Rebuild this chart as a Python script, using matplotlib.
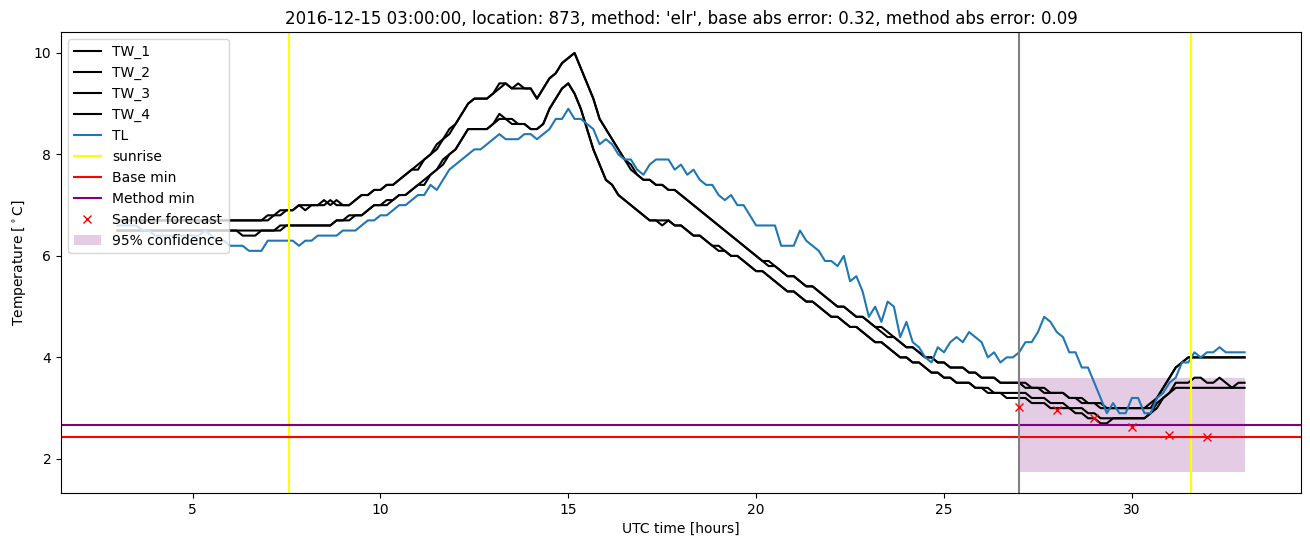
import matplotlib
matplotlib.use("Agg")
import matplotlib.pyplot as plt
import numpy as np

# time axis: 10 minute steps from 03 to 33 UTC hours
hours = np.arange(181) / 6.0 + 3

# one row per hour (six 10-min values), last value at 33h
tw_1 = [
    6.7, 6.7, 6.7, 6.7, 6.7, 6.7,
    6.7, 6.7, 6.7, 6.7, 6.7, 6.7,
    6.7, 6.7, 6.7, 6.7, 6.7, 6.7,
    6.7, 6.7, 6.7, 6.7, 6.7, 6.7,
    6.8, 6.8, 6.9, 6.9, 6.9, 7.0,
    6.9, 7.0, 7.0, 7.1, 7.0, 7.1,
    7.0, 7.0, 7.1, 7.2, 7.2, 7.3,
    7.3, 7.4, 7.4, 7.5, 7.6, 7.7,
    7.8, 7.9, 8.0, 8.1, 8.3, 8.5,
    8.6, 8.8, 9.0, 9.1, 9.1, 9.1,
    9.2, 9.4, 9.4, 9.3, 9.4, 9.3,
    9.3, 9.1, 9.3, 9.5, 9.6, 9.8,
    9.9, 10.0, 9.7, 9.4, 9.1, 8.7,
    8.5, 8.3, 8.1, 7.9, 7.7, 7.6,
    7.5, 7.5, 7.4, 7.4, 7.3, 7.3,
    7.2, 7.1, 7.0, 6.9, 6.8, 6.7,
    6.6, 6.5, 6.4, 6.3, 6.2, 6.1,
    6.0, 5.9, 5.8, 5.8, 5.7, 5.6,
    5.6, 5.5, 5.4, 5.4, 5.3, 5.2,
    5.1, 5.0, 5.0, 4.9, 4.8, 4.8,
    4.7, 4.6, 4.5, 4.4, 4.4, 4.3,
    4.2, 4.2, 4.1, 4.0, 4.0, 3.9,
    3.9, 3.8, 3.8, 3.8, 3.7, 3.7,
    3.6, 3.6, 3.6, 3.5, 3.5, 3.5,
    3.5, 3.5, 3.4, 3.4, 3.4, 3.3,
    3.3, 3.3, 3.2, 3.2, 3.2, 3.1,
    3.1, 3.1, 3.0, 3.0, 3.0, 3.0,
    3.0, 3.0, 3.0, 3.0, 3.2, 3.4,
    3.6, 3.8, 3.9, 4.0, 4.0, 4.0,
    4.0, 4.0, 4.0, 4.0, 4.0, 4.0,
    4.0,
]

tw_2 = [
    6.7, 6.7, 6.7, 6.7, 6.7, 6.7,
    6.7, 6.7, 6.7, 6.7, 6.7, 6.7,
    6.7, 6.7, 6.7, 6.7, 6.7, 6.7,
    6.7, 6.7, 6.7, 6.7, 6.7, 6.7,
    6.7, 6.8, 6.8, 6.9, 6.9, 7.0,
    7.0, 7.0, 7.0, 7.0, 7.1, 7.0,
    7.0, 7.0, 7.1, 7.2, 7.2, 7.3,
    7.3, 7.4, 7.4, 7.5, 7.6, 7.7,
    7.7, 7.9, 8.0, 8.2, 8.3, 8.4,
    8.6, 8.8, 9.0, 9.1, 9.1, 9.1,
    9.2, 9.3, 9.4, 9.3, 9.3, 9.3,
    9.3, 9.1, 9.3, 9.5, 9.6, 9.8,
    9.9, 10.0, 9.7, 9.4, 9.1, 8.7,
    8.5, 8.3, 8.1, 7.9, 7.8, 7.6,
    7.5, 7.5, 7.4, 7.4, 7.3, 7.3,
    7.2, 7.1, 7.0, 6.9, 6.8, 6.7,
    6.6, 6.5, 6.4, 6.3, 6.2, 6.1,
    6.0, 5.9, 5.9, 5.8, 5.7, 5.6,
    5.6, 5.5, 5.4, 5.4, 5.3, 5.2,
    5.1, 5.0, 5.0, 4.9, 4.8, 4.8,
    4.7, 4.6, 4.6, 4.5, 4.4, 4.3,
    4.2, 4.2, 4.1, 4.0, 4.0, 3.9,
    3.9, 3.8, 3.8, 3.8, 3.7, 3.7,
    3.6, 3.6, 3.6, 3.5, 3.5, 3.5,
    3.5, 3.4, 3.4, 3.4, 3.3, 3.3,
    3.3, 3.3, 3.2, 3.2, 3.1, 3.1,
    3.1, 3.0, 3.0, 3.0, 3.0, 3.0,
    3.0, 3.0, 3.0, 3.1, 3.2, 3.4,
    3.6, 3.8, 3.9, 4.0, 4.0, 4.0,
    4.0, 4.0, 4.0, 4.0, 4.0, 4.0,
    4.0,
]

tw_3 = [
    6.5, 6.5, 6.5, 6.5, 6.5, 6.5,
    6.5, 6.5, 6.5, 6.5, 6.5, 6.5,
    6.5, 6.5, 6.5, 6.5, 6.5, 6.5,
    6.5, 6.5, 6.5, 6.5, 6.5, 6.5,
    6.5, 6.5, 6.6, 6.6, 6.6, 6.6,
    6.6, 6.6, 6.6, 6.6, 6.6, 6.7,
    6.7, 6.7, 6.8, 6.8, 6.9, 7.0,
    7.0, 7.1, 7.1, 7.2, 7.2, 7.3,
    7.4, 7.5, 7.6, 7.7, 7.9, 8.0,
    8.1, 8.3, 8.5, 8.5, 8.5, 8.5,
    8.6, 8.8, 8.7, 8.7, 8.6, 8.6,
    8.5, 8.5, 8.6, 8.9, 9.1, 9.3,
    9.4, 9.2, 8.9, 8.5, 8.1, 7.8,
    7.5, 7.4, 7.2, 7.1, 7.0, 6.9,
    6.8, 6.7, 6.7, 6.7, 6.7, 6.6,
    6.6, 6.5, 6.4, 6.4, 6.3, 6.2,
    6.2, 6.1, 6.0, 6.0, 5.9, 5.8,
    5.7, 5.7, 5.6, 5.5, 5.4, 5.3,
    5.3, 5.2, 5.1, 5.1, 5.0, 4.9,
    4.8, 4.8, 4.7, 4.6, 4.6, 4.5,
    4.4, 4.3, 4.3, 4.2, 4.1, 4.0,
    4.0, 3.9, 3.9, 3.8, 3.7, 3.7,
    3.6, 3.6, 3.5, 3.5, 3.5, 3.4,
    3.4, 3.4, 3.3, 3.3, 3.3, 3.3,
    3.3, 3.3, 3.2, 3.2, 3.2, 3.1,
    3.1, 3.1, 3.0, 3.0, 3.0, 2.9,
    2.9, 2.8, 2.8, 2.8, 2.8, 2.8,
    2.8, 2.8, 2.8, 2.9, 3.1, 3.2,
    3.3, 3.5, 3.5, 3.5, 3.6, 3.6,
    3.5, 3.5, 3.6, 3.5, 3.4, 3.5,
    3.5,
]

tw_4 = [
    6.5, 6.5, 6.5, 6.5, 6.5, 6.5,
    6.5, 6.5, 6.5, 6.5, 6.5, 6.5,
    6.5, 6.5, 6.5, 6.5, 6.5, 6.5,
    6.5, 6.5, 6.4, 6.4, 6.4, 6.5,
    6.5, 6.5, 6.5, 6.6, 6.6, 6.6,
    6.6, 6.6, 6.6, 6.6, 6.6, 6.7,
    6.7, 6.8, 6.8, 6.8, 6.9, 7.0,
    7.0, 7.0, 7.1, 7.2, 7.2, 7.3,
    7.4, 7.4, 7.6, 7.7, 7.8, 8.0,
    8.1, 8.3, 8.5, 8.5, 8.5, 8.5,
    8.6, 8.7, 8.7, 8.6, 8.6, 8.6,
    8.5, 8.5, 8.6, 8.9, 9.1, 9.3,
    9.4, 9.2, 8.9, 8.5, 8.1, 7.8,
    7.5, 7.4, 7.2, 7.1, 7.0, 6.9,
    6.8, 6.7, 6.7, 6.6, 6.7, 6.6,
    6.6, 6.5, 6.4, 6.4, 6.3, 6.2,
    6.1, 6.1, 6.0, 6.0, 5.9, 5.8,
    5.7, 5.7, 5.6, 5.5, 5.4, 5.3,
    5.3, 5.2, 5.1, 5.1, 5.0, 4.9,
    4.8, 4.8, 4.7, 4.6, 4.6, 4.5,
    4.4, 4.3, 4.3, 4.2, 4.1, 4.0,
    4.0, 3.9, 3.9, 3.8, 3.7, 3.7,
    3.6, 3.6, 3.5, 3.5, 3.5, 3.4,
    3.4, 3.3, 3.3, 3.3, 3.2, 3.2,
    3.2, 3.2, 3.1, 3.1, 3.1, 3.0,
    3.0, 3.0, 3.0, 2.9, 2.9, 2.8,
    2.8, 2.7, 2.7, 2.8, 2.8, 2.8,
    2.8, 2.8, 2.8, 2.9, 3.0, 3.2,
    3.3, 3.4, 3.4, 3.4, 3.4, 3.4,
    3.4, 3.4, 3.4, 3.4, 3.4, 3.4,
    3.4,
]

tl = [
    6.6, 6.6, 6.6, 6.6, 6.5, 6.5,
    6.4, 6.4, 6.4, 6.4, 6.4, 6.4,
    6.4, 6.4, 6.5, 6.4, 6.3, 6.3,
    6.2, 6.2, 6.2, 6.1, 6.1, 6.1,
    6.3, 6.3, 6.3, 6.3, 6.3, 6.2,
    6.3, 6.3, 6.4, 6.4, 6.4, 6.4,
    6.5, 6.5, 6.5, 6.6, 6.7, 6.7,
    6.8, 6.8, 6.9, 7.0, 7.0, 7.1,
    7.2, 7.2, 7.4, 7.3, 7.5, 7.7,
    7.8, 7.9, 8.0, 8.1, 8.1, 8.2,
    8.3, 8.4, 8.3, 8.3, 8.3, 8.4,
    8.4, 8.3, 8.4, 8.5, 8.7, 8.7,
    8.9, 8.7, 8.7, 8.6, 8.5, 8.2,
    8.3, 8.2, 8.0, 7.9, 7.9, 7.7,
    7.6, 7.8, 7.9, 7.9, 7.9, 7.7,
    7.8, 7.6, 7.7, 7.5, 7.4, 7.4,
    7.2, 7.1, 7.2, 7.0, 7.0, 6.8,
    6.6, 6.6, 6.6, 6.6, 6.2, 6.2,
    6.2, 6.5, 6.3, 6.2, 6.1, 5.9,
    5.9, 5.8, 6.0, 5.5, 5.6, 5.3,
    4.8, 5.0, 4.7, 5.1, 5.0, 4.4,
    4.7, 4.3, 4.2, 4.0, 3.9, 4.2,
    4.1, 4.3, 4.4, 4.3, 4.5, 4.4,
    4.3, 4.0, 4.1, 3.9, 4.0, 4.0,
    4.1, 4.3, 4.3, 4.5, 4.8, 4.7,
    4.5, 4.4, 4.1, 4.1, 3.8, 3.8,
    3.5, 3.2, 2.9, 3.1, 2.9, 2.9,
    3.2, 3.2, 2.9, 2.9, 3.2, 3.3,
    3.5, 3.6, 3.9, 3.9, 4.1, 4.0,
    4.1, 4.1, 4.2, 4.1, 4.1, 4.1,
    4.1,
]

sunrise = [7.58, 31.57]
now_hour = 27
base_min = 2.43
method_min = 2.66
forecast_hours = [27, 28, 29, 30, 31, 32]
forecast_temp = [3.03, 2.97, 2.80, 2.62, 2.47, 2.43]
conf_hours = [27, 33]
conf_low = 1.74
conf_high = 3.59

title = ("2016-12-15 03:00:00, location: 873, method: 'elr', "
         "base abs error: 0.32, method abs error: 0.09")


def main():
    fig = plt.figure(figsize=(13.1, 5.47), dpi=100)
    ax = fig.add_subplot(111)
    fig.subplots_adjust(left=0.0466, right=0.9931, top=0.9415, bottom=0.0987)

    for name, vals in [("TW_1", tw_1), ("TW_2", tw_2), ("TW_3", tw_3), ("TW_4", tw_4)]:
        ax.plot(hours, vals, color="black", label=name)
    ax.plot(hours, tl, color="C0", label="TL")

    ax.axvline(sunrise[0], color="yellow", label="sunrise")
    ax.axvline(sunrise[1], color="yellow")
    ax.axhline(base_min, color="red", label="Base min")
    ax.axhline(method_min, color="purple", label="Method min")
    ax.axvline(now_hour, color="grey")
    ax.plot(forecast_hours, forecast_temp, "rx", label="Sander forecast")
    ax.fill_between(conf_hours, conf_low, conf_high, color="purple", alpha=0.2,
                    linewidth=0, label="95% confidence")

    ax.set_title(title)
    ax.set_xlabel("UTC time [hours]")
    ax.set_ylabel(r"Temperature [$^\circ$C]")
    ax.legend(loc="upper left")

    fig.savefig("out.png", dpi=100)


if __name__ == '__main__': main()
